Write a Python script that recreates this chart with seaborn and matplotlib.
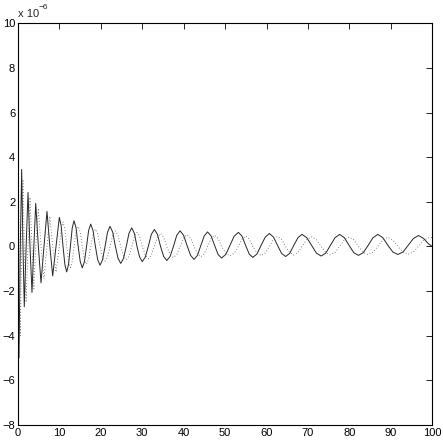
import matplotlib
matplotlib.use("Agg")
import matplotlib.pyplot as plt
import seaborn as sns

# values, y in units of 1e-6
x_vals = [
    0, 0.24, 0.56, 0.89, 1.2, 1.52, 1.97, 2.42, 2.9, 3.38, 3.83, 4.28, 4.92, 5.56,
    6.28, 7.0, 7.69, 8.38, 9.18, 9.98,
    10.43, 10.87, 11.32, 11.76, 12.2, 12.65, 13.09, 13.53, 14.03, 14.53, 15.03, 15.53,
    16.04, 16.55, 17.05, 17.56, 18.12, 18.69, 19.25, 19.81, 20.41, 21.02, 21.62, 22.22,
    22.87, 23.52, 24.16, 24.81, 25.47, 26.14, 26.8, 27.46, 28.1, 28.73, 29.37, 30.0,
    30.73, 31.46, 32.19, 32.92, 33.67, 34.42, 35.17, 35.92, 36.72, 37.53, 38.33, 39.13,
    39.98, 40.82, 41.67, 42.51, 43.33, 44.14, 44.96, 45.77, 46.62, 47.46, 48.31, 49.15,
    50.17, 51.18, 52.2, 53.21, 54.08, 54.95, 55.82, 56.69, 57.69, 58.7, 59.7, 60.7,
    61.68, 62.66, 63.63, 64.61, 65.6, 66.59, 67.58, 68.57, 69.73, 70.88, 72.04, 73.19,
    74.31, 75.43, 76.54, 77.66, 78.8, 79.93, 81.07, 82.2, 83.37, 84.54, 85.71, 86.88,
    88.09, 89.3, 90.5, 91.71, 92.96, 94.2, 95.45, 96.69, 97.9, 99.1, 100,
]

solid_vals = [
    0, -5.0, 0, 3.45, 0, -2.7, 0, 2.42, 0, -2.06, 0, 1.93, 0, -1.63,
    0, 1.57, 0, -1.32, 0, 1.30,
    0.92, 0, -0.81, -1.14, -0.81, 0, 0.82, 1.15, 0.82, 0, -0.68, -0.96,
    -0.68, 0, 0.71, 1.0, 0.71, 0, -0.6, -0.84, -0.6, 0, 0.64, 0.90,
    0.64, 0, -0.54, -0.76, -0.54, 0, 0.59, 0.83, 0.59, 0, -0.48, -0.68,
    -0.48, 0, 0.54, 0.76, 0.54, 0, -0.45, -0.63, -0.45, 0, 0.5, 0.70,
    0.5, 0.04, -0.4, -0.58, -0.4, 0.04, 0.47, 0.65, 0.47, 0.05, -0.36, -0.52,
    -0.36, 0.05, 0.46, 0.63, 0.46, 0.05, -0.34, -0.49, -0.34, 0.05, 0.42, 0.58,
    0.42, 0.05, -0.31, -0.45, -0.31, 0.05, 0.39, 0.54, 0.39, 0.05, -0.3, -0.43,
    -0.3, 0.05, 0.39, 0.54, 0.39, 0.05, -0.28, -0.40, -0.28, 0.05, 0.39, 0.54,
    0.39, 0.05, -0.25, -0.36, -0.25, 0.05, 0.35, 0.49, 0.36, 0.12, 0.0,
]

dotted_vals = [
    6.2, 0, -4.0, 0, 3.0, 0, -2.5, 0, 2.2, 0, -1.9, 0, 1.7, 0,
    -1.45, 0, 1.35, 0, -1.15, 0,
    0.78, 1.1, 0.78, 0, -0.67, -0.95, -0.67, 0, 0.64, 0.9, 0.64, 0,
    -0.57, -0.8, -0.57, 0, 0.55, 0.78, 0.55, 0, -0.47, -0.66, -0.47, 0,
    0.5, 0.7, 0.5, 0, -0.43, -0.6, -0.43, 0, 0.45, 0.63, 0.45, 0,
    -0.39, -0.55, -0.39, 0, 0.41, 0.58, 0.41, 0, -0.36, -0.5, -0.36, 0,
    0.38, 0.53, 0.38, 0, -0.33, -0.46, -0.33, 0, 0.36, 0.5, 0.36, 0,
    -0.3, -0.43, -0.3, 0, 0.33, 0.47, 0.33, 0, -0.29, -0.41, -0.29, 0,
    0.32, 0.45, 0.32, 0, -0.28, -0.39, -0.28, 0, 0.31, 0.43, 0.31, 0,
    -0.27, -0.38, -0.27, 0, 0.3, 0.42, 0.3, 0, -0.26, -0.37, -0.26, 0,
    0.29, 0.41, 0.29, 0, -0.25, -0.35, -0.25, 0, 0.28, 0.38, 0.4,
]

x_ticks = list(range(0, 101, 10))
y_ticks = list(range(-8, 11, 2))


def main():
    sns.set_style("white")
    plt.rcParams["font.family"] = ["Liberation Sans", "DejaVu Sans"]
    plt.rcParams["xtick.direction"] = "in"
    plt.rcParams["ytick.direction"] = "in"

    fig = plt.figure(figsize=(4.43, 4.43), dpi=100)
    ax = fig.add_axes([0.0406, 0.0406, 0.935, 0.907])

    sns.lineplot(x=x_vals, y=solid_vals, ax=ax, color="0.15", linewidth=0.7,
                 sort=False, estimator=None)
    sns.lineplot(x=x_vals, y=dotted_vals, ax=ax, color="0.35", linewidth=0.6,
                 linestyle=(0, (1, 2.5)), sort=False, estimator=None)

    ax.set_xlim(0, 100)
    ax.set_ylim(-8, 10)
    ax.set_xticks(x_ticks)
    ax.set_yticks(y_ticks)
    ax.set_xticklabels([str(t) for t in x_ticks])
    ax.set_yticklabels([str(t).replace("-", "\u2212") for t in y_ticks])
    ax.tick_params(axis="both", which="both", length=4, width=0.6, labelsize=8,
                   top=True, right=True, pad=2, colors="black")
    for side in ax.spines.values():
        side.set_color("black")
        side.set_linewidth(0.8)

    fig.text(0.041, 0.958, "x 10", fontsize=8, ha="left", va="bottom")
    fig.text(0.088, 0.975, "\u22126", fontsize=6, ha="left", va="bottom")

    plt.savefig("out.png", dpi=100)


if __name__ == "__main__":
    main()
